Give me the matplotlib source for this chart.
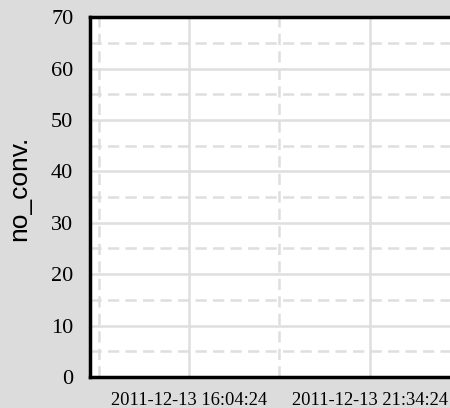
import numpy as np
import matplotlib
matplotlib.use('Agg')
import matplotlib.pyplot as plt
import matplotlib.dates as mdates
from datetime import datetime, timedelta

# no data points are visible in the chart, series is empty
times = []
no_conv = []

x_start = datetime(2011, 12, 13, 13, 3, 5)
x_end = datetime(2011, 12, 14, 0, 14, 0)
major_ticks = [datetime(2011, 12, 13, 16, 4, 24), datetime(2011, 12, 13, 21, 34, 24)]
minor_ticks = [datetime(2011, 12, 13, 13, 19, 24), datetime(2011, 12, 13, 18, 49, 24),
               datetime(2011, 12, 14, 0, 19, 24)]
y_major = [0, 10, 20, 30, 40, 50, 60, 70]
y_minor = [5, 15, 25, 35, 45, 55, 65]

bg = '#dcdcdc'
grid = '#dedede'

fig = plt.figure(figsize=(4.5, 4.08), dpi=100, facecolor=bg)
ax = fig.add_axes([0.2, 0.076, 0.822, 0.882])
ax.set_facecolor('white')

ax.plot(times, no_conv, color='green')

ax.set_xlim(x_start, x_end)
ax.set_ylim(0, 70)
ax.set_xticks(major_ticks)
ax.set_xticks(minor_ticks, minor=True)
ax.xaxis.set_major_formatter(mdates.DateFormatter('%Y-%m-%d %H:%M:%S'))
ax.set_yticks(y_major)
ax.set_yticks(y_minor, minor=True)

ax.grid(which='major', color=grid, linewidth=1.8, linestyle='-')
ax.grid(which='minor', color=grid, linewidth=1.8, linestyle=(0, (4.5, 2.5)))
ax.set_axisbelow(True)

ax.tick_params(which='both', length=0)
ax.tick_params(axis='y', labelsize=16, pad=12)
ax.tick_params(axis='x', labelsize=13.3, pad=11)
for lab in ax.get_xticklabels() + ax.get_yticklabels():
    lab.set_family('Liberation Serif')

for side in ['left', 'bottom', 'top']:
    ax.spines[side].set_linewidth(2.5)
    ax.spines[side].set_color('black')
ax.spines['right'].set_visible(False)

ax.set_ylabel('no_conv.', fontsize=19, family='Liberation Sans')
ax.yaxis.set_label_coords(-0.16, 0.525)

plt.savefig('out.png', dpi=100, facecolor=bg)
